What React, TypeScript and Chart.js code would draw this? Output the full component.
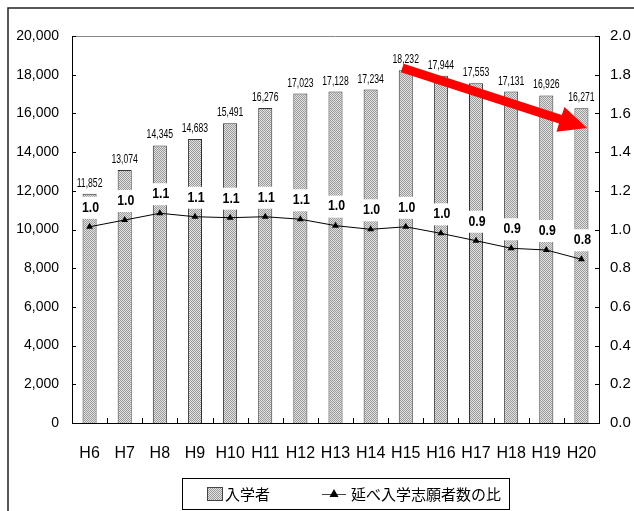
import React, { useEffect, useRef } from "react";
import { Chart, registerables } from "chart.js";

Chart.register(...registerables);

const categories = ["H6", "H7", "H8", "H9", "H10", "H11", "H12", "H13", "H14", "H15", "H16", "H17", "H18", "H19", "H20"];
const enrollees = [11852, 13074, 14345, 14683, 15491, 16276, 17023, 17128, 17234, 18232, 17944, 17553, 17131, 16926, 16271];
const ratios = [1.014, 1.049, 1.084, 1.066, 1.061, 1.066, 1.053, 1.02, 1.001, 1.014, 0.98, 0.942, 0.903, 0.894, 0.846];
const leftTicks = [0, 2000, 4000, 6000, 8000, 10000, 12000, 14000, 16000, 18000, 20000];
const rightTicks = [0, 0.2, 0.4, 0.6, 0.8, 1.0, 1.2, 1.4, 1.6, 1.8, 2.0];
const seriesNames = ["入学者", "延べ入学志願者数の比"];
// trend arrow in data coordinates (category index, enrollee value)
const arrowFrom = { index: 8.9, value: 18350 };
const arrowTo = { index: 14.16, value: 15250 };

const SANS = "'Liberation Sans', Arial, sans-serif";
const JP = "'Noto Sans CJK JP', sans-serif";

function makePattern(): CanvasPattern | string {
  const c = document.createElement("canvas");
  c.width = 2;
  c.height = 2;
  const g = c.getContext("2d");
  if (!g) return "#bdbdbd";
  g.fillStyle = "#e2e2e2";
  g.fillRect(0, 0, 2, 2);
  g.fillStyle = "#9a9a9a";
  g.fillRect(0, 0, 1, 1);
  g.fillRect(1, 1, 1, 1);
  const p = document.createElement("canvas").getContext("2d")!.createPattern(c, "repeat");
  return p || "#bdbdbd";
}

function squeezedText(ctx: CanvasRenderingContext2D, text: string, cx: number, cy: number, sx: number) {
  ctx.save();
  ctx.translate(cx, cy);
  ctx.scale(sx, 1);
  ctx.fillText(text, 0, 0);
  ctx.restore();
}

export default function App() {
  const ref = useRef<HTMLCanvasElement>(null);

  useEffect(() => {
    if (!ref.current) return;
    const pattern = makePattern();

    const decor = {
      id: "decor",
      beforeDraw(chart: any) {
        const ctx = chart.ctx;
        ctx.save();
        ctx.fillStyle = "#fff";
        ctx.fillRect(0, 0, chart.width, chart.height);
        ctx.strokeStyle = "#222";
        ctx.lineWidth = 1.5;
        ctx.beginPath();
        ctx.moveTo(8, chart.height);
        ctx.lineTo(8, 8);
        ctx.lineTo(chart.width, 8);
        ctx.stroke();
        ctx.restore();
      },
      afterDatasetsDraw(chart: any) {
        const ctx = chart.ctx;
        const a = chart.chartArea;
        const x = chart.scales.x;
        const y = chart.scales.y;
        const y1 = chart.scales.y1;
        ctx.save();
        // top border
        ctx.strokeStyle = "#888";
        ctx.lineWidth = 1;
        ctx.beginPath();
        ctx.moveTo(a.left, a.top + 0.5);
        ctx.lineTo(a.right, a.top + 0.5);
        ctx.stroke();
        // inward ticks
        ctx.strokeStyle = "#000";
        ctx.beginPath();
        leftTicks.forEach((v) => {
          const py = Math.round(y.getPixelForValue(v)) + 0.5;
          ctx.moveTo(a.left, py);
          ctx.lineTo(a.left + 4, py);
        });
        rightTicks.forEach((v) => {
          const py = Math.round(y1.getPixelForValue(v)) + 0.5;
          ctx.moveTo(a.right, py);
          ctx.lineTo(a.right - 4, py);
        });
        for (let i = 1; i < categories.length; i++) {
          const px = Math.round(x.getPixelForValue(i - 0.5)) + 0.5;
          ctx.moveTo(px, a.bottom);
          ctx.lineTo(px, a.bottom - 5);
        }
        ctx.stroke();

        // bar value labels
        const barMeta = chart.getDatasetMeta(0);
        ctx.fillStyle = "#000";
        ctx.font = `12px ${SANS}`;
        ctx.textAlign = "center";
        ctx.textBaseline = "alphabetic";
        barMeta.data.forEach((el: any, i: number) => {
          squeezedText(ctx, enrollees[i].toLocaleString("en-US"), el.x, el.y - 7, 0.72);
        });

        // ratio labels
        const lineMeta = chart.getDatasetMeta(1);
        ctx.font = `bold 14px ${SANS}`;
        ctx.textBaseline = "middle";
        lineMeta.data.forEach((el: any, i: number) => {
          const t = ratios[i].toFixed(1);
          const cy = el.y - 19;
          const w = ctx.measureText(t).width * 0.88 + 6;
          ctx.fillStyle = "#fff";
          ctx.fillRect(el.x + 1 - w / 2, cy - 11, w, 22);
          ctx.fillStyle = "#000";
          squeezedText(ctx, t, el.x + 1, cy, 0.88);
        });

        // red arrow
        const x0 = x.getPixelForValue(arrowFrom.index);
        const yA = y.getPixelForValue(arrowFrom.value);
        const x2 = x.getPixelForValue(arrowTo.index);
        const yB = y.getPixelForValue(arrowTo.value);
        const ang = Math.atan2(yB - yA, x2 - x0);
        const len = Math.hypot(x2 - x0, yB - yA);
        const headL = 28;
        const headW = 13;
        const shaftW = 4.5;
        ctx.translate(x0, yA);
        ctx.rotate(ang);
        ctx.fillStyle = "#ff0000";
        ctx.beginPath();
        ctx.moveTo(0, -shaftW);
        ctx.lineTo(len - headL, -shaftW);
        ctx.lineTo(len - headL, -headW);
        ctx.lineTo(len, 0);
        ctx.lineTo(len - headL, headW);
        ctx.lineTo(len - headL, shaftW);
        ctx.lineTo(0, shaftW);
        ctx.closePath();
        ctx.fill();
        ctx.restore();
      },
      afterDraw(chart: any) {
        const ctx = chart.ctx;
        ctx.save();
        // legend
        ctx.fillStyle = "#fff";
        ctx.fillRect(182, 478, 327, 31);
        ctx.strokeStyle = "#000";
        ctx.lineWidth = 1;
        ctx.strokeRect(182.5, 478.5, 327, 31);
        ctx.fillStyle = pattern as any;
        ctx.fillRect(207, 487, 15, 13);
        ctx.strokeStyle = "#444";
        ctx.strokeRect(207.5, 487.5, 15, 13);
        ctx.fillStyle = "#000";
        ctx.font = `15px ${JP}`;
        ctx.textAlign = "left";
        ctx.textBaseline = "middle";
        ctx.fillText(seriesNames[0], 225, 494);
        ctx.beginPath();
        ctx.moveTo(322, 494.5);
        ctx.lineTo(346, 494.5);
        ctx.stroke();
        ctx.beginPath();
        ctx.moveTo(334, 489);
        ctx.lineTo(338.5, 497);
        ctx.lineTo(329.5, 497);
        ctx.closePath();
        ctx.fill();
        ctx.fillText(seriesNames[1], 351, 494);
        ctx.restore();
      },
    };

    const chart = new Chart(ref.current, {
      type: "bar",
      data: {
        labels: categories,
        datasets: [
          {
            type: "bar",
            label: seriesNames[0],
            data: enrollees,
            yAxisID: "y",
            backgroundColor: pattern as any,
            borderColor: "#333",
            borderWidth: 1,
            borderSkipped: "bottom",
            barPercentage: 0.4,
            categoryPercentage: 1,
            order: 2,
          },
          {
            type: "line",
            label: seriesNames[1],
            data: ratios,
            yAxisID: "y1",
            borderColor: "#000",
            borderWidth: 1,
            backgroundColor: "#000",
            pointStyle: "triangle",
            pointRadius: 4,
            pointBorderWidth: 0,
            tension: 0,
            order: 1,
          } as any,
        ],
      },
      options: {
        responsive: false,
        animation: false,
        devicePixelRatio: 1,
        layout: { padding: { top: 36, left: 0, right: 0, bottom: 0 } },
        plugins: { legend: { display: false }, tooltip: { enabled: false } },
        scales: {
          x: {
            offset: true,
            grid: { display: false, drawTicks: false },
            border: { display: true, color: "#000", width: 1 },
            ticks: { color: "#000", font: { family: SANS, size: 16 }, padding: 21, maxRotation: 0, autoSkip: false },
            afterFit: (s: any) => { s.height = 88; },
          },
          y: {
            position: "left",
            min: 0,
            max: 20000,
            grid: { display: false, drawTicks: false },
            border: { display: true, color: "#000", width: 1 },
            ticks: {
              stepSize: 2000,
              color: "#000",
              padding: 13,
              font: { family: SANS, size: 14 },
              callback: (v: any) => Number(v).toLocaleString("en-US"),
            },
            afterFit: (s: any) => { s.width = 72; },
          },
          y1: {
            position: "right",
            min: 0,
            max: 2,
            grid: { display: false, drawTicks: false },
            border: { display: true, color: "#000", width: 1 },
            ticks: {
              stepSize: 0.2,
              color: "#000",
              padding: 11,
              font: { family: SANS, size: 15 },
              callback: (v: any) => Number(v).toFixed(1),
            },
            afterFit: (s: any) => { s.width = 35; },
          },
        },
      },
      plugins: [decor],
    });
    return () => chart.destroy();
  }, []);

  return (
    <div style={{ position: "fixed", left: 0, top: 0, width: 634, height: 511 }}>
      <canvas ref={ref} width={634} height={511} style={{ display: "block", width: 634, height: 511 }} />
    </div>
  );
}
